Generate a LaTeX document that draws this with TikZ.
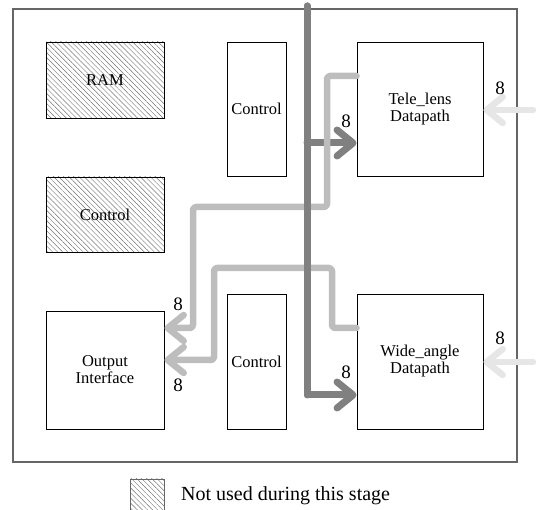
\documentclass[tikz,border=0pt]{standalone}
\usepackage{fontspec}
\setmainfont{Liberation Serif}
\usetikzlibrary{arrows.meta,patterns.meta}
\definecolor{busdark}{HTML}{808080}
\definecolor{buslight}{HTML}{BDBDBD}
\definecolor{buspale}{HTML}{E6E6E6}
\begin{document}
\begin{tikzpicture}[x=1pt,y=-1pt,
  blk/.style={draw=black,line width=0.9pt,fill=white,inner sep=0pt,align=center,
    font=\fontsize{16.5}{17}\selectfont},
  unused/.style={blk,pattern={Lines[angle=-45,distance=3.6pt,line width=0.45pt]},pattern color=black!55},
  busd/.style={draw=busdark,line width=7pt,line cap=round,line join=round},
  busl/.style={draw=buslight,line width=6.5pt,line cap=round,line join=round,rounded corners=3pt},
  busp/.style={draw=buspale,line width=6.5pt,line cap=round},
  tip/.style={-{Straight Barb[length=16pt,width=26pt,round]}},
  lbl/.style={font=\fontsize{19}{20}\selectfont,inner sep=0pt},
]
\useasboundingbox (0,0) rectangle (539,510);
% outer chip
\node[draw=black!60,line width=1.2pt,minimum width=504pt,minimum height=453pt,inner sep=0pt] (chip) at (265,235.5) {};
% blocks
\node[unused,minimum width=118pt,minimum height=76pt] (ram) at (105,80) {RAM};
\node[unused,minimum width=118pt,minimum height=75pt] (ctlh) at (105,214.5) {Control};
\node[blk,minimum width=59pt,minimum height=134pt] (ctl1) at (256.5,109) {Control};
\node[blk,minimum width=126pt,minimum height=134pt] (tele) at (420,109) {Tele\_lens\\Datapath};
\node[blk,minimum width=118pt,minimum height=118pt] (out) at (105,370) {Output\\Interface};
\node[blk,minimum width=59pt,minimum height=135pt] (ctl2) at (256.5,361.5) {Control};
\node[blk,minimum width=126pt,minimum height=135pt] (wide) at (420,361.5) {Wide\_angle\\Datapath};
% legend
\node[unused,draw=black!60,minimum width=34pt,minimum height=34pt] (leg) at (147,496) {};
\node[anchor=west,font=\fontsize{20}{22}\selectfont,inner sep=0pt] (legt) at (181,496) {Not used during this stage};
% coordinates
\coordinate (bustop) at (307,6);
\coordinate (busbot) at (307,395);
\coordinate (busmid) at (307,143);
% dark bus horizontals
\draw[busd,tip] (bustop) -- (busbot) -- (wide.west |- busbot);
\draw[busd,tip] (busmid) -- (tele.west |- busmid);
% light buses
\draw[busl,tip] (tele.west |- 0,76) -- (327,76) -- (327,207) -- (193,207) -- (193,328) -- (out.east |- 0,328);
\draw[busl,tip] (wide.west |- 0,328) -- (332,328) -- (332,268) -- (214,268) -- (214,360) -- (out.east |- 0,360);
% dark vertical on top
\draw[busd] (bustop) -- (busbot);
% external inputs
\coordinate (inT) at (533,110);
\coordinate (inW) at (533,362);
\draw[busp,tip] (inT) -- (tele.east |- inT);
\draw[busp,tip] (inW) -- (wide.east |- inW);
% labels
\node[lbl] (l1) at (500,88) {8};
\node[lbl] (l2) at (500,338) {8};
\node[lbl] (l3) at (346,121) {8};
\node[lbl] (l4) at (346,372) {8};
\node[lbl] (l5) at (178,304) {8};
\node[lbl] (l6) at (178,385) {8};
\end{tikzpicture}
\end{document}
